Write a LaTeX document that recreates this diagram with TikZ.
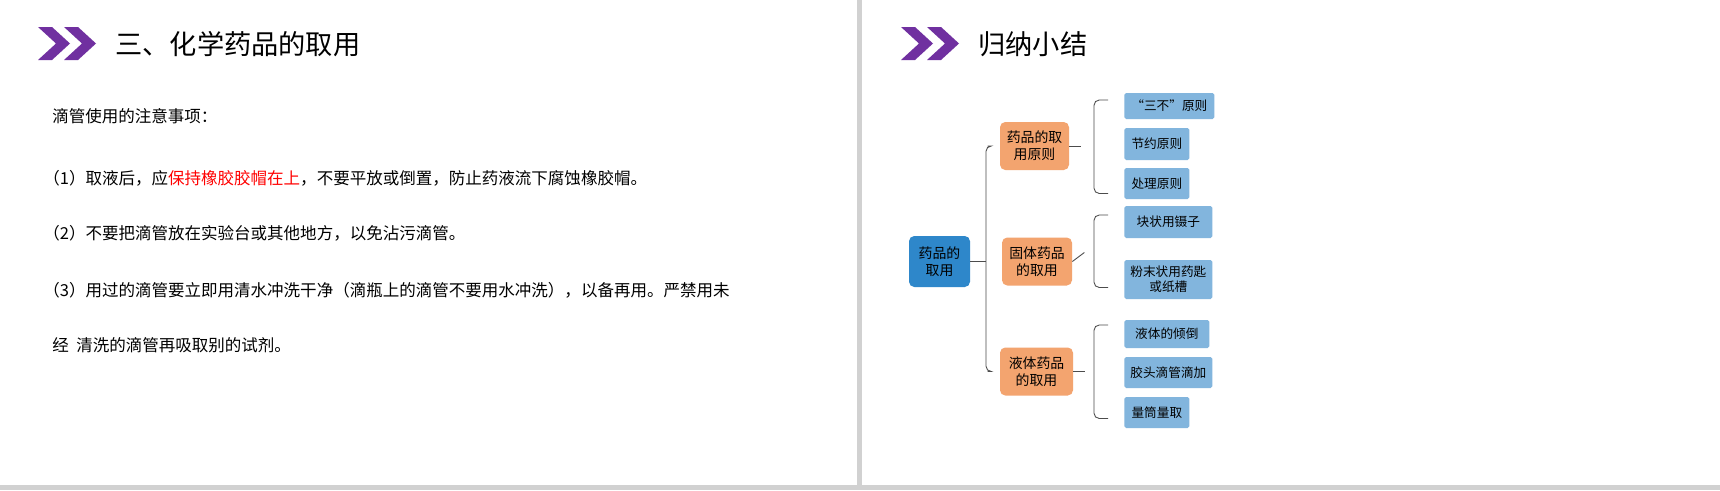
\documentclass[tikz,border=0pt]{standalone}
\usepackage{fontspec}
\setmainfont{Noto Sans CJK SC}
\usetikzlibrary{positioning,calc}
\definecolor{chev}{HTML}{7030A0}
\definecolor{rootc}{HTML}{2E87CA}
\definecolor{grpc}{HTML}{F3A46F}
\definecolor{leafc}{HTML}{82B5DD}
\tikzset{
  root/.style={fill=rootc, rounded corners=3pt, minimum width=61*0.02cm, minimum height=51*0.02cm, align=center, font=\fontsize{7.9}{9.5}\selectfont, inner sep=1pt},
  grp/.style={fill=grpc, rounded corners=3pt, minimum height=48*0.02cm, align=center, font=\fontsize{7.9}{9.5}\selectfont, inner sep=1pt},
  leaf/.style={fill=leafc, anchor=west, rounded corners=1pt, align=center, font=\fontsize{7.2}{8.6}\selectfont, inner sep=1pt},
  brk/.style={draw=black!70, line width=0.5pt, rounded corners=3pt},
  body/.style={anchor=west, font=\fontsize{9.4}{11}\selectfont, inner sep=0pt},
  ttl/.style={anchor=west, font=\fontsize{15.5}{18}\selectfont, inner sep=0pt}
}
\begin{document}
\begin{tikzpicture}[x=0.02cm, y=-0.02cm]
\useasboundingbox (0,0) rectangle (1720,490);
\fill[white] (0,0) rectangle (1720,490);
% frame
\fill[black!18] (857,0) rectangle (862,490);
\fill[black!18] (0,485) rectangle (1720,490);
% chevrons
\foreach \ox in {38,901}{
  \foreach \dx in {0,26}{
    \fill[chev] (\ox+\dx,27) -- (\ox+\dx+14,27) -- (\ox+\dx+32,43.5) -- (\ox+\dx+14,60) -- (\ox+\dx,60) -- (\ox+\dx+18,43.5) -- cycle;
  }
}
\node[ttl] (t1) at (115,44) {三、化学药品的取用};
\node[ttl] (t2) at (978,44) {归纳小结};

% left slide text
\node[body] (h) at (52,116) {滴管使用的注意事项：};
\node[body] (p1) at (43,178) {（1）取液后，应\textcolor{red}{保持橡胶胶帽在上}，不要平放或倒置，防止药液流下腐蚀橡胶帽。};
\node[body] (p2) at (43,233) {（2）不要把滴管放在实验台或其他地方，以免沾污滴管。};
\node[body] (p3) at (43,290) {（3）用过的滴管要立即用清水冲洗干净（滴瓶上的滴管不要用水冲洗），以备再用。严禁用未};
\node[body] (p4) at (52,345) {经\ \ 清洗的滴管再吸取别的试剂。};

% mind map
\node[root] (r) at (939.5,261.5) {药品的\\取用};
\node[grp, minimum width=69*0.02cm] (g1) at (1034.5,146) {药品的取\\用原则};
\node[grp, minimum width=70*0.02cm] (g2) at (1037,261.5) {固体药品\\的取用};
\node[grp, minimum width=73*0.02cm] (g3) at (1036.5,371.5) {液体药品\\的取用};

\node[leaf, minimum width=90*0.02cm, minimum height=26*0.02cm] (l1) at (1124,106) {“三不”原则};
\node[leaf, minimum width=65*0.02cm, minimum height=32*0.02cm] (l2) at (1124,144) {节约原则};
\node[leaf, minimum width=65*0.02cm, minimum height=31*0.02cm] (l3) at (1124,183.5) {处理原则};
\node[leaf, minimum width=88*0.02cm, minimum height=32*0.02cm] (l4) at (1124,222) {块状用镊子};
\node[leaf, minimum width=88*0.02cm, minimum height=39*0.02cm] (l5) at (1124,279.5) {粉末状用药匙\\或纸槽};
\node[leaf, minimum width=85*0.02cm, minimum height=28*0.02cm] (l6) at (1124,334) {液体的倾倒};
\node[leaf, minimum width=88*0.02cm, minimum height=31*0.02cm] (l7) at (1124,372.5) {胶头滴管滴加};
\node[leaf, minimum width=65*0.02cm, minimum height=31*0.02cm] (l8) at (1124,412.5) {量筒量取};

% brackets
\coordinate (b0) at (986,265);
\draw[brk] ($(g1.west)+(-12,0)$) -| (b0) |- ($(g3.west)+(-12,0)$);
\draw[brk] (r.east) -- ++(16,0);
\coordinate (b1) at (1094,147);
\draw[brk] ($(l1.west)+(-16,-6)$) -| (b1) |- ($(l3.west)+(-16,10)$);
\draw[brk] (g1.east) -- ++(12,0);
\coordinate (b2) at (1094,252);
\draw[brk] ($(l4.west)+(-16,-7)$) -| (b2) |- ($(l5.west)+(-16,8)$);
\draw[brk] (g2.east) -- ++(12,-9);
\coordinate (b3) at (1094,372);
\draw[brk] ($(l6.west)+(-16,-9)$) -| (b3) |- ($(l8.west)+(-16,6)$);
\draw[brk] (g3.east) -- ++(12,0);
\end{tikzpicture}
\end{document}
